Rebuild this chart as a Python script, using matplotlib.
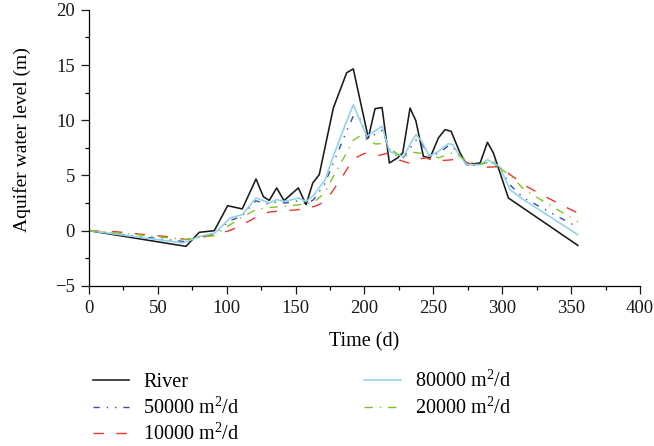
import matplotlib
matplotlib.use("Agg")
import matplotlib.pyplot as plt
from matplotlib.ticker import MultipleLocator

plt.rcParams['font.family'] = ['Liberation Serif', 'DejaVu Serif']
plt.rcParams['mathtext.fontset'] = 'custom'
plt.rcParams['mathtext.rm'] = 'Liberation Serif'
plt.rcParams['mathtext.it'] = 'Liberation Serif:italic'
plt.rcParams['mathtext.bf'] = 'Liberation Serif:bold'

# River stage
river_t = [0, 70.4, 80.1, 91.0, 100.7, 111.3, 121.3, 126.6, 130.9, 136.3, 141.6, 152.0,
           157.6, 162.5, 167.2, 177.4, 187.1, 191.9, 202.8, 207.7, 212.8, 218.1, 223.9,
           227.8, 233.1, 237.3, 242.8, 247.6, 253.7, 258.5, 262.9, 269.4, 274.3, 284.0,
           289.3, 293.6, 304.5, 354.9]
river_h = [0, -1.42, -0.15, 0.0, 2.26, 1.97, 4.68, 3.08, 2.74, 3.87, 2.72, 3.87,
           2.36, 4.32, 5.07, 11.1, 14.3, 14.65, 8.4, 11.05, 11.15, 6.13, 6.58,
           7.04, 11.1, 9.96, 6.73, 6.58, 8.40, 9.15, 9.0, 7.04, 5.98, 6.13,
           8.0, 7.04, 2.96, -1.33]

# 80000 m2/d
t80 = [0, 68.3, 80.6, 91.5, 102.4, 111.3, 121.3, 130.9, 136.3, 142.3, 152.0, 157.6,
       162.9, 171.4, 177.4, 184.7, 191.9, 201.7, 212.8, 218.1, 228.3, 234.3, 237.5,
       241.6, 247.1, 253.7, 260.9, 264.1, 269.4, 274.3, 284.0, 289.3, 293.6, 298.0,
       305.7, 315.4, 354.9]
h80 = [0, -1.11, -0.52, -0.21, 1.15, 1.45, 2.96, 2.51, 2.81, 2.65, 2.96, 2.65,
       3.17, 4.62, 6.73, 9.15, 11.41, 8.54, 9.45, 7.18, 6.70, 8.09, 8.70,
       8.09, 6.73, 7.18, 7.88, 7.79, 6.73, 5.98, 5.98, 6.43, 6.13, 5.82,
       3.71, 2.81, -0.36]

# 50000 m2/d
t50 = [0, 70, 80, 91, 102, 111, 121, 131, 136, 142, 152, 158, 163, 171, 177, 185, 192,
       197, 202, 213, 218, 224, 228, 234, 238, 242, 247, 254, 261, 264, 269, 274, 284,
       289, 294, 298, 306, 315, 355]
h50 = [0, -1.0, -0.55, -0.3, 0.9, 1.3, 2.7, 2.4, 2.6, 2.5, 2.7, 2.4, 2.8, 4.2, 6.0, 8.4, 10.4,
       10.1, 8.3, 9.1, 7.4, 6.7, 6.6, 7.6, 8.3, 7.8, 6.8, 7.0, 7.7, 7.6, 6.8, 6.0, 6.0,
       6.3, 6.1, 5.7, 4.1, 3.0, 0.3]

# 20000 m2/d
t20 = [0, 30, 70, 80, 91, 102, 111, 121, 131, 142, 152, 158, 164, 171, 177, 185, 192, 197,
       202, 208, 215, 220, 228, 235, 242, 254, 262, 267, 274, 284, 294, 300, 306, 316, 355]
h20 = [0, -0.3, -0.8, -0.6, -0.45, 0.5, 1.2, 1.9, 2.1, 2.2, 2.35, 2.4, 2.65, 3.4, 4.8, 6.6, 8.2, 8.6,
       8.2, 7.85, 7.9, 7.3, 6.6, 7.1, 7.0, 6.6, 7.0, 7.0, 6.3, 6.0, 6.3, 5.5, 5.0, 3.7, 0.8]

# 10000 m2/d
t10 = [0, 20, 40, 58, 70, 78, 91, 102, 111, 121, 131, 142, 152, 158, 164, 171, 177, 185, 192,
       200, 210, 216, 225, 233, 240, 245, 250, 262, 268, 278, 284, 297, 300, 310, 315, 328,
       345, 355]
h10 = [0, -0.1, -0.35, -0.55, -0.8, -0.7, -0.35, 0.0, 0.5, 1.2, 1.7, 1.8, 1.9, 2.05, 2.2, 2.6,
       3.6, 5.1, 6.5, 7.0, 6.8, 7.0, 6.4, 6.1, 6.5, 6.6, 6.3, 6.4, 6.5, 6.0, 5.7, 5.8, 5.6, 4.7,
       4.2, 3.3, 2.2, 1.6]

labels = ["River", "50000 m$^{2}$/d", "10000 m$^{2}$/d", "80000 m$^{2}$/d", "20000 m$^{2}$/d"]

fig = plt.figure(figsize=(6.54, 4.46), dpi=100)
ax = fig.add_axes([0.136, 0.359, 0.8425, 0.619])

l_river, = ax.plot(river_t, river_h, color='#1a1a1a', lw=1.15, label=labels[0])
l50, = ax.plot(t50, h50, color='#4048b0', lw=1.0, dashes=(4.5, 5, 1, 5, 1, 5), label=labels[1])
l10, = ax.plot(t10, h10, color='#e8372c', lw=1.0, dashes=(7.5, 9), label=labels[2])
l80, = ax.plot(t80, h80, color='#8fd3e8', lw=1.15, label=labels[3])
l20, = ax.plot(t20, h20, color='#7cc520', lw=1.0, dashes=(6, 5, 1, 5), label=labels[4])

ax.set_xlim(0, 400)
ax.set_ylim(-5, 20)
ax.xaxis.set_major_locator(MultipleLocator(50))
ax.xaxis.set_minor_locator(MultipleLocator(25))
ax.yaxis.set_major_locator(MultipleLocator(5))
ax.yaxis.set_minor_locator(MultipleLocator(2.5))
ax.spines['top'].set_visible(False)
ax.spines['right'].set_visible(False)
for s in ('left', 'bottom'):
    ax.spines[s].set_linewidth(0.9)
ax.tick_params(which='major', direction='out', length=6, width=0.9, labelsize=13.5,
               colors='#1a1a1a', pad=4)
ax.tick_params(which='minor', direction='out', length=3, width=0.9)
ax.yaxis.set_major_formatter(matplotlib.ticker.FuncFormatter(lambda v, p: f"{int(v)}".replace('-', '\u2212')))

ax.set_xlabel("Time (d)", fontsize=14.5, labelpad=11)
ax.set_ylabel("Aquifer water level (m)", fontsize=14)
ax.yaxis.set_label_coords(-0.105, 0.53)

handles = [l_river, l50, l10, l80, l20]
fig.legend(handles, labels, ncol=2, loc='upper left', bbox_to_anchor=(0.142, 0.168),
           frameon=False, fontsize=14.5, handlelength=1.8, handletextpad=0.7,
           columnspacing=6.2, labelspacing=0.26, borderpad=0, borderaxespad=0)

fig.savefig("out.png", dpi=100)
